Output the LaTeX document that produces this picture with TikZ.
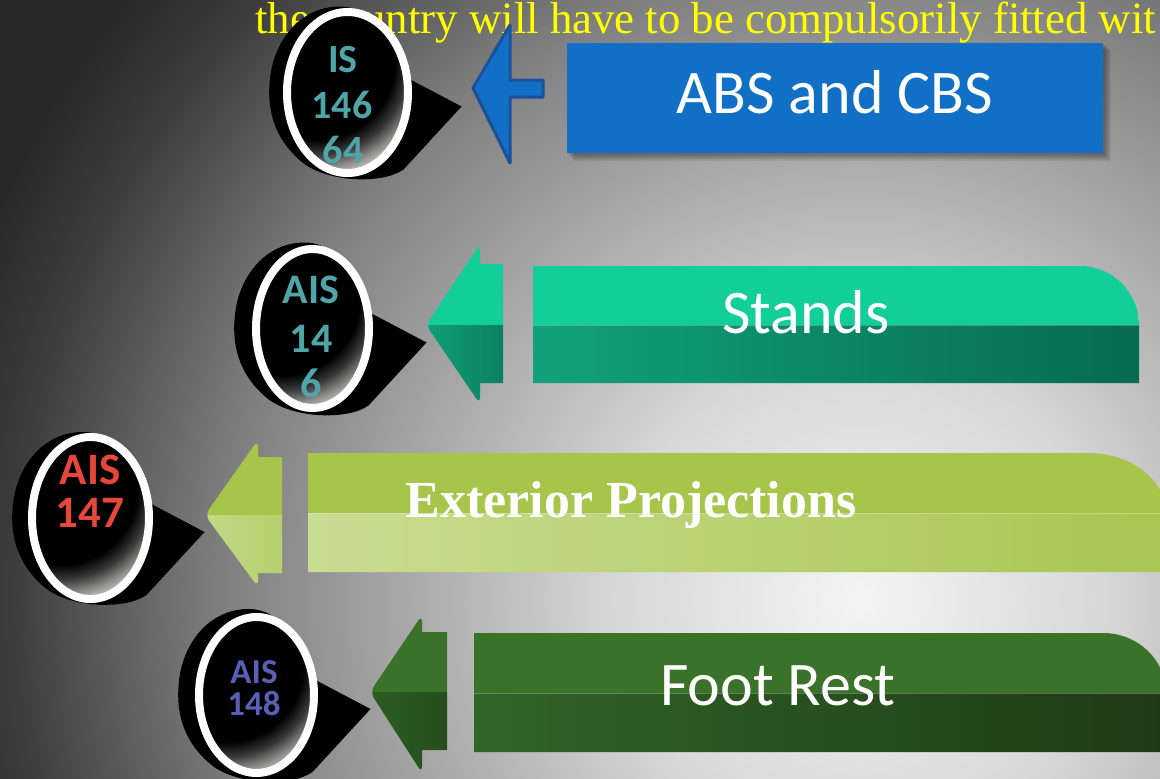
\documentclass[tikz,border=0pt]{standalone}
\usepackage{fontspec}
\newfontfamily\carl{Carlito}
\newfontfamily\lserif{Liberation Serif}

% background glow
\definecolor{bgA}{RGB}{244,244,244}
\definecolor{bgB}{RGB}{215,215,215}
\definecolor{bgC}{RGB}{192,192,192}
\definecolor{bgD}{RGB}{125,125,125}
\definecolor{bgE}{RGB}{60,60,60}
\definecolor{bgF}{RGB}{40,40,40}
\pgfdeclareradialshading{bgglow}{\pgfpoint{0bp}{0bp}}{color(0bp)=(bgA); color(6.5bp)=(bgB); color(9.2bp)=(bgC); color(17bp)=(bgD); color(22.4bp)=(bgE); color(25bp)=(bgF); color(50bp)=(bgF)}

% badge interior: dark core with a pale rim towards the lower right
\definecolor{rgA}{RGB}{56,56,56}
\definecolor{rgB}{RGB}{144,144,142}
\definecolor{rgC}{RGB}{208,212,204}
\pgfdeclareradialshading{ringglow}{\pgfpoint{0bp}{0bp}}{color(0bp)=(black); color(16bp)=(black); color(19bp)=(rgA); color(22bp)=(rgB); color(24.5bp)=(rgC); color(50bp)=(rgC)}

% palette
\definecolor{headyellow}{RGB}{255,255,0}
\definecolor{absblue}{RGB}{17,112,198}
\definecolor{arrowblue}{RGB}{28,80,156}
\definecolor{tealtext}{RGB}{79,165,168}
\definecolor{redtext}{RGB}{229,72,58}
\definecolor{bluetext}{RGB}{91,94,181}

\definecolor{tealtop}{RGB}{18,206,154}
\definecolor{tealbotL}{RGB}{17,162,124}
\definecolor{tealbotR}{RGB}{7,107,79}
\definecolor{tealtipbotL}{RGB}{16,160,122}
\definecolor{tealtipbotR}{RGB}{12,127,95}

\definecolor{limetop}{RGB}{167,196,75}
\definecolor{limebotL}{RGB}{200,221,146}
\definecolor{limebotR}{RGB}{169,198,81}
\definecolor{limetipbotL}{RGB}{195,218,136}
\definecolor{limetipbotR}{RGB}{180,207,108}

\definecolor{greentop}{RGB}{58,114,41}
\definecolor{greenbotL}{RGB}{48,101,40}
\definecolor{greenbotR}{RGB}{31,58,23}
\definecolor{greentipbotL}{RGB}{44,94,34}
\definecolor{greentipbotR}{RGB}{36,77,28}

% black teardrop with a framed glossy oval; #1,#2 centre, #3,#4 radii
\newcommand\badge[4]{%
  \begin{scope}[shift={(#1,#2)}]
    \fill[black] (114,14) -- (56,77)
      .. controls (35,92) and (-20,90) .. (-45,70)
      .. controls (-72,48) and (-80,20) .. (-78,-8)
      .. controls (-76,-50) and (-48,-86) .. (-8,-86)
      .. controls (25,-86) and (40,-55) .. (40,-25) -- cycle;
    \begin{scope}
      \clip (0,0) ellipse [x radius=#3, y radius=#4];
      \shade[shading=ringglow] (-150,-150) rectangle (90,90);
    \end{scope}
    \draw[white, line width=8] (0,0) ellipse [x radius=#3, y radius=#4];
  \end{scope}}

% two-tone left-pointing chevron
% #1,#2 tip; #3 barb x; #4,#5 barb y (top, bottom); #6 shaft right; #7,#8 shaft y; #9 colour set
\newcommand\chevron[9]{%
  \begin{scope}
    \clip[rounded corners=7] (#1,#2) -- (#3,#5) -- (#3,#4) -- cycle
      [sharp corners] (#3,#7) rectangle (#6,#8);
    \fill[#9top] (#1-5,#4-10) rectangle (#6+5,#2);
    \shade[left color=#9tipbotL, right color=#9tipbotR] (#1-5,#2) rectangle (#6+5,#5+10);
  \end{scope}}

% two-tone ribbon with a rounded upper right corner
% #1 left; #2 top; #3 split; #4 bottom; #5 start of curve; #6 right; #7 colour set
\newcommand\ribbon[7]{%
  \begin{scope}
    \clip (#1,#2) -- (#5,#2)
      .. controls ({#5+0.552*(#6-#5)},#2) and (#6,{#3-0.552*(#3-#2)}) .. (#6,#3)
      -- (#6,#4) -- (#1,#4) -- cycle;
    \fill[#7top] (#1,#2) rectangle (#6,#3);
    \shade[left color=#7botL, right color=#7botR] (#1,#3) rectangle (#6,#4);
    \draw[white, opacity=0.25, line width=0.8] (#1,#3) -- (#6,#3);
  \end{scope}}

\tikzset{
  headline/.style={anchor=base west, inner sep=0, text=headyellow,
    font=\lserif\fontsize{44.8}{50}\selectfont},
  bandlabel/.style={anchor=base, inner sep=0, text=white,
    font=\carl\fontsize{62}{70}\selectfont},
  serifband/.style={anchor=base, inner sep=0, text=white,
    font=\lserif\bfseries\fontsize{52}{60}\selectfont},
  badgetext/.style={anchor=base, inner sep=0, text height=0.64em, text depth=0pt,
    font=\carl\bfseries\fontsize{#1}{#1}\selectfont},
}

\begin{document}
\begin{tikzpicture}[x=1pt,y=-1pt]
\useasboundingbox (0,0) rectangle (1160,779);

% backdrop
\begin{scope}
  \clip (0,0) rectangle (1160,779);
  \fill[bgF] (0,0) rectangle (1160,779);
  \shade[shading=bgglow] (-90,-350) rectangle (1810,1550);
\end{scope}

% caption line at the top
\node[headline] (headline) at (255,33) {the country will have to be compulsorily fitted wit};

% ---- row 1: IS 14664 / ABS and CBS
\badge{347.5}{92.5}{60.5}{80.5}
\node[badgetext=40, text=tealtext] (is1) at (343,72) {IS};
\node[badgetext=40, text=tealtext] (is2) at (342,118) {146};
\node[badgetext=40, text=tealtext] (is3) at (343,163) {64};

\draw[fill=absblue, draw=arrowblue, line width=3, line join=round]
  (473,88) -- (510,25) -- (510,80) -- (543,80) -- (543,97) -- (510,97) -- (510,163) -- cycle;

\foreach \k in {1,...,7}
  \fill[black, opacity=0.055] (567+\k,43+\k) rectangle (1104+\k,154+\k);
\fill[absblue] (567,43) rectangle (1103,153);
\node[bandlabel] (abs) at (835,113) {ABS and CBS};

% ---- row 2: AIS 146 / Stands
\badge{312.5}{328.5}{56.5}{79.5}
\node[badgetext=42, text=tealtext] (st1) at (311,303) {AIS};
\node[badgetext=42, text=tealtext] (st2) at (311,352) {14};
\node[badgetext=42, text=tealtext] (st3) at (311,397) {6};
\chevron{426}{325}{480}{244}{404}{503}{264}{383}{teal}
\ribbon{533}{266}{325}{383}{1080}{1139}{teal}
\node[bandlabel] (stands) at (806,333) {Stands};

% ---- row 3: AIS 147 / Exterior Projections
\badge{90.5}{518}{58.5}{81}
\node[badgetext=45, text=redtext] (ex1) at (90,484) {AIS};
\node[badgetext=45, text=redtext] (ex2) at (90,527) {147};
\chevron{205}{515}{258}{440}{587}{282}{457}{573}{lime}
\ribbon{308}{453}{513}{572}{1088}{1166}{lime}
\node[serifband] (ext) at (631,517) {Exterior Projections};

% ---- row 4: AIS 148 / Foot Rest
\badge{256.5}{695}{57.5}{78}
\node[badgetext=35, text=bluetext] (fr1) at (254,683) {AIS};
\node[badgetext=35, text=bluetext] (fr2) at (254,715) {148};
\chevron{370}{692}{422}{615}{773}{447}{632}{750}{green}
\ribbon{474}{633}{693}{752}{1103}{1166}{green}
\node[bandlabel] (foot) at (778,705) {Foot Rest};
\end{tikzpicture}
\end{document}
